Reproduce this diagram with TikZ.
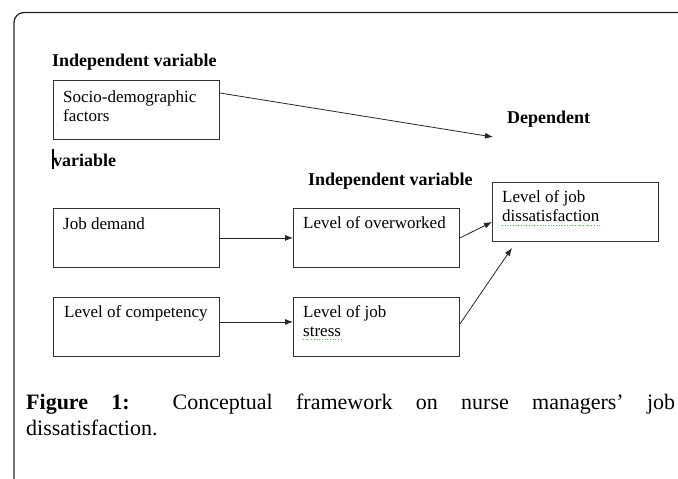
\documentclass[tikz,border=0pt]{standalone}
\usepackage{fontspec}
\setmainfont{Liberation Serif}
\usetikzlibrary{arrows.meta,calc}
\begin{document}
\begin{tikzpicture}[x=1pt,y=-1pt,
  box/.style={draw=black!80, line width=0.9pt, minimum width=166pt, minimum height=59pt, anchor=north west, inner sep=0pt},
  boxtext/.style={anchor=base west, inner sep=0pt, font=\fontsize{17}{19}\selectfont},
  head/.style={anchor=base west, inner sep=0pt, font=\fontsize{18}{20}\selectfont\bfseries},
  captext/.style={anchor=base west, inner sep=0pt, font=\fontsize{22}{25}\selectfont},
  conn/.style={draw=black!85, line width=0.8pt, -{Latex[length=8pt,width=6pt]}},
  squig/.style={draw=green!55!gray, line width=0.7pt, dotted}
]
\useasboundingbox (0,0) rectangle (678,479);
% outer frame
\draw[line width=1.3pt, black!85, rounded corners=10pt] (14,481) -- (14,12.5) -- (680,12.5);

% headings
\node[head] (h1) at (52,66) {Independent variable};
\node[head] (h2) at (53,166) {variable};
\draw[line width=1.2pt] (53,149) -- (53,169);
\node[head] (h3) at (308,185) {Independent variable};
\node[head] (h4) at (507,123) {Dependent};

% boxes
\node[box] (socio)  at (53,80)  {};
\node[box] (jobd)   at (53,208) {};
\node[box] (comp)   at (53,297) {};
\node[box] (overw)  at (293,208) {};
\node[box] (stress) at (293,297) {};
\node[box] (dissat) at (492,182) {};

% box texts
\node[boxtext] (sociot) at (63,102) {\begin{tabular}[t]{@{}l@{}}Socio-demographic\\factors\end{tabular}};
\node[boxtext] (jobdt) at (63,229) {Job demand};
\node[boxtext] (compt) at (64,317) {Level of competency};
\node[boxtext] (overwt) at (303,228) {Level of overworked};
\node[boxtext] (stresst) at (303,317) {\begin{tabular}[t]{@{}l@{}}Level of job\\stress\end{tabular}};
\node[boxtext] (dissatt) at (502,202) {\begin{tabular}[t]{@{}l@{}}Level of job\\dissatisfaction\end{tabular}};

% spell-check underlines
\draw[squig] (502,225) -- (600,225);
\draw[squig] (303,339) -- (342,339);

% connectors
\coordinate (deptip) at (493,137);
\draw[conn] ([yshift=-13pt]socio.north east) -- (deptip);
\draw[conn] (jobd.east) -- (overw.west);
\draw[conn] ([yshift=5pt]comp.east) -- ([yshift=5pt]stress.west);
\draw[conn] (overw.east) -- ([yshift=-40pt]dissat.north west);
\coordinate (dtip) at ([xshift=20pt,yshift=-6pt]dissat.south west);
\draw[conn] ([yshift=3pt]stress.east) -- (dtip);

% caption
\node[captext] (cap1) at (26,409) {\makebox[649pt][s]{\textbf{Figure} \textbf{1:} Conceptual framework on nurse managers’ job}};
\node[captext] (cap2) at (26,435) {dissatisfaction.};
\end{tikzpicture}
\end{document}
